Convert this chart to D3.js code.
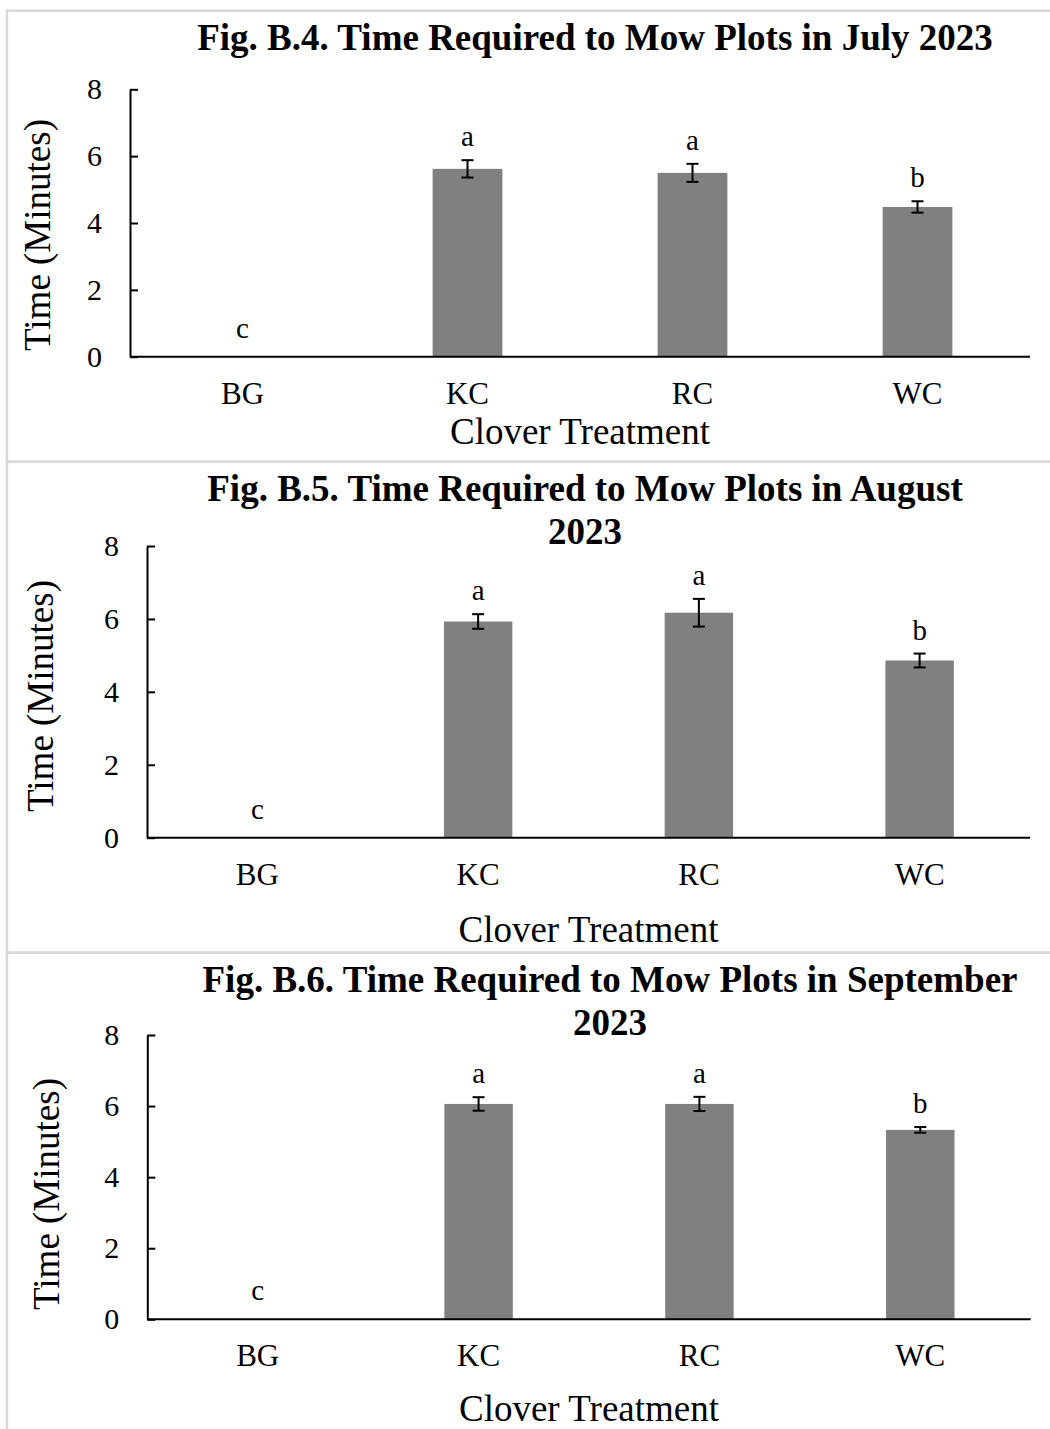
<!DOCTYPE html>
<html>
<head>
<meta charset="utf-8">
<script src="https://cdn.jsdelivr.net/npm/d3@7"></script>
<style>
	body { margin: 0; background: #fff; }
	svg { display: block; font-family: "Liberation Serif", "Times New Roman", serif; }
	.axis path, .axis line { stroke: #000; stroke-width: 2; }
	.axis text { fill: #000; }
</style>
</head>
<body>
<svg id="chart" width="1050" height="1429"></svg>
<script>
const categories = ["BG", "KC", "RC", "WC"];
const yTicks = [0, 2, 4, 6, 8];

const julyMeans = [0, 5.62, 5.5, 4.48];
const julyErrors = [0, 0.26, 0.27, 0.17];
const julyLetters = ["c", "a", "a", "b"];

const augustMeans = [0, 5.93, 6.17, 4.86];
const augustErrors = [0, 0.2, 0.38, 0.19];
const augustLetters = ["c", "a", "a", "b"];

const septemberMeans = [0, 6.06, 6.06, 5.33];
const septemberErrors = [0, 0.19, 0.2, 0.08];
const septemberLetters = ["c", "a", "a", "b"];

const julyTitle = ["Fig. B.4. Time Required to Mow Plots in July 2023"];
const augustTitle = ["Fig. B.5. Time Required to Mow Plots in August", "2023"];
const septemberTitle = ["Fig. B.6. Time Required to Mow Plots in September", "2023"];

const yLabel = "Time (Minutes)";
const xLabel = "Clover Treatment";

// layout of each panel (pixels)
const panels = [
	{ means: julyMeans, errors: julyErrors, letters: julyLetters, title: julyTitle,
		top: 10.7, bottom: 461.7, titleX: 595, titleY: 50,
		x0: 130, x1: 1030, yTop: 89.3, yBottom: 356.7, yTitleX: 50, yTitleY: 235, xTitleY: 444 },
	{ means: augustMeans, errors: augustErrors, letters: augustLetters, title: augustTitle,
		top: 461.7, bottom: 952.7, titleX: 585, titleY: 501,
		x0: 147, x1: 1030, yTop: 546, yBottom: 837.7, yTitleX: 53, yTitleY: 696, xTitleY: 942 },
	{ means: septemberMeans, errors: septemberErrors, letters: septemberLetters, title: septemberTitle,
		top: 952.7, bottom: 1445, titleX: 610, titleY: 992,
		x0: 147.3, x1: 1030.7, yTop: 1035, yBottom: 1319.3, yTitleX: 59, yTitleY: 1194, xTitleY: 1421 },
];

const svg = d3.select("#chart");
svg.append("rect").attr("width", 1050).attr("height", 1429).attr("fill", "#fff");

function drawPanel(p) {
	const g = svg.append("g");

	g.append("rect")
		.attr("x", 7)
		.attr("y", p.top)
		.attr("width", 1100)
		.attr("height", p.bottom - p.top)
		.attr("fill", "none")
		.attr("stroke", "#d9d9d9")
		.attr("stroke-width", 2.5);

	const x = d3.scaleBand().domain(categories).range([p.x0, p.x1]).paddingInner(0.69).paddingOuter(0.345);
	const y = d3.scaleLinear().domain([0, 8]).range([p.yBottom, p.yTop]);
	const rows = categories.map((c, i) => ({ cat: c, mean: p.means[i], err: p.errors[i], letter: p.letters[i] }));
	const cx = (d) => x(d.cat) + x.bandwidth() / 2;

	g.append("g")
		.selectAll("rect")
		.data(rows)
		.join("rect")
		.attr("x", (d) => x(d.cat))
		.attr("width", x.bandwidth())
		.attr("y", (d) => y(d.mean))
		.attr("height", (d) => y(0) - y(d.mean))
		.attr("fill", "#808080");

	const yAxis = g.append("g")
		.attr("class", "axis")
		.attr("transform", `translate(${p.x0},0)`)
		.call(d3.axisLeft(y).tickValues(yTicks).tickSizeInner(-8).tickSizeOuter(0).tickPadding(28))
		.attr("font-family", null)
		.attr("font-size", 30);

	const xAxis = g.append("g")
		.attr("class", "axis")
		.attr("transform", `translate(0,${p.yBottom})`)
		.call(d3.axisBottom(x).tickSize(0).tickPadding(25))
		.attr("font-family", null)
		.attr("font-size", 31);
	xAxis.select(".domain").attr("d", `M${p.x0},0H${p.x1}`);

	// error bars
	const cap = 6;
	const eb = g.append("g").attr("stroke", "#000").attr("stroke-width", 2).selectAll("g").data(rows.filter((d) => d.err > 0)).join("g");
	eb.append("line")
		.attr("x1", cx)
		.attr("x2", cx)
		.attr("y1", (d) => y(d.mean - d.err))
		.attr("y2", (d) => y(d.mean + d.err));
	[-1, 1].forEach((s) => {
		eb.append("line")
			.attr("x1", (d) => cx(d) - cap)
			.attr("x2", (d) => cx(d) + cap)
			.attr("y1", (d) => y(d.mean + s * d.err))
			.attr("y2", (d) => y(d.mean + s * d.err));
	});

	// significance letters
	g.append("g")
		.selectAll("text")
		.data(rows)
		.join("text")
		.attr("x", cx)
		.attr("y", (d) => y(d.mean + d.err) - (d.mean > 0 ? 14 : 19))
		.attr("text-anchor", "middle")
		.attr("font-size", 29)
		.text((d) => d.letter);

	// title
	const title = g.append("text")
		.attr("x", p.titleX)
		.attr("y", p.titleY)
		.attr("text-anchor", "middle")
		.attr("font-size", 37)
		.attr("font-weight", "bold");
	title.selectAll("tspan")
		.data(p.title)
		.join("tspan")
		.attr("x", p.titleX)
		.attr("dy", (d, i) => (i === 0 ? 0 : 43))
		.text((d) => d);

	g.append("text")
		.attr("transform", `translate(${p.yTitleX},${p.yTitleY}) rotate(-90)`)
		.attr("text-anchor", "middle")
		.attr("font-size", 37)
		.text(yLabel);

	g.append("text")
		.attr("x", (p.x0 + p.x1) / 2)
		.attr("y", p.xTitleY)
		.attr("text-anchor", "middle")
		.attr("font-size", 37)
		.text(xLabel);
}

panels.forEach(drawPanel);
</script>
</body>
</html>
